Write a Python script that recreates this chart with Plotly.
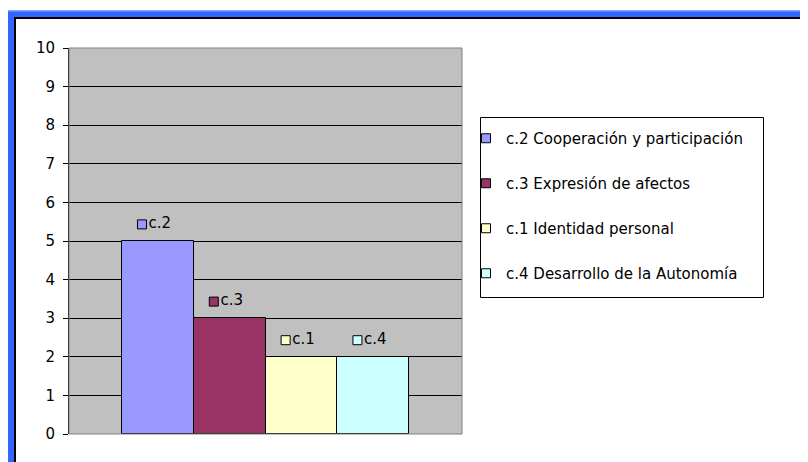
import plotly.graph_objects as go

# ---- data ----
series_names = ["c.2 Cooperación y participación", "c.3 Expresión de afectos",
                "c.1 Identidad personal", "c.4 Desarrollo de la Autonomía"]
short_labels = ["c.2", "c.3", "c.1", "c.4"]
values = [5, 3, 2, 2]
colors = ["#9999FF", "#993366", "#FFFFCC", "#CCFFFF"]
y_ticks = list(range(0, 11))

FONT = "DejaVu Sans, Liberation Sans, Arial"
OFF = 8                      # default page body margin
W, H = 808 - OFF, 462 - OFF  # figure size
L, R, T, B = 69, 462, 48, 434  # plot area in page pixels

def px(x):
    return (x - L) / (R - L)

def py(y):
    return (B - y) / (B - T)

fig = go.Figure()
for i, (name, v, c) in enumerate(zip(series_names, values, colors)):
    fig.add_trace(go.Bar(
        x=[i], y=[v], name=name, width=1,
        marker=dict(color=c, line=dict(color="#000000", width=1)),
        showlegend=False,
    ))
# data labels with legend keys
for i, (v, c, s) in enumerate(zip(values, colors, short_labels)):
    fig.add_trace(go.Scatter(
        x=[i - 0.22], y=[v + 0.43], mode="markers+text", text=[s],
        textposition="middle right",
        marker=dict(symbol="square", size=9, color=c, line=dict(color="#000000", width=1)),
        textfont=dict(family=FONT, size=15, color="#000000"),
        showlegend=False, hoverinfo="skip", cliponaxis=False,
    ))
# legend entries
for i, (name, c) in enumerate(zip(series_names, colors)):
    fig.add_trace(go.Scatter(
        x=[None], y=[None], mode="markers", name=name, legendgroup=f"g{i}",
        marker=dict(symbol="square", size=9, color=c, line=dict(color="#000000", width=1)),
        showlegend=True,
    ))

shapes = []
# plot area outline (grey)
shapes.append(dict(type="rect", xref="paper", yref="paper", x0=0, x1=1, y0=0, y1=1,
                   line=dict(color="#808080", width=1), fillcolor="rgba(0,0,0,0)", layer="above"))
# legend box
shapes.append(dict(type="rect", xref="paper", yref="paper", x0=px(480.5), x1=px(763.5), y0=py(297.5), y1=py(117.5),
                   line=dict(color="#000000", width=1), fillcolor="rgba(0,0,0,0)", layer="above"))
# blue frame (left and top)
frame_blue = "#3366FF"
shapes.append(dict(type="rect", xref="paper", yref="paper", x0=px(8), x1=px(14), y0=py(480), y1=py(10),
                   line=dict(width=0), fillcolor=frame_blue, layer="above"))
shapes.append(dict(type="rect", xref="paper", yref="paper", x0=px(8), x1=px(830), y0=py(17), y1=py(10),
                   line=dict(width=0), fillcolor=frame_blue, layer="above"))
shapes.append(dict(type="rect", xref="paper", yref="paper", x0=px(8), x1=px(830), y0=py(11.5), y1=py(10),
                   line=dict(width=0), fillcolor="#7FA6FF", layer="above"))
# black inner frame line
shapes.append(dict(type="rect", xref="paper", yref="paper", x0=px(14), x1=px(16), y0=py(480), y1=py(17),
                   line=dict(width=0), fillcolor="#000000", layer="above"))
shapes.append(dict(type="rect", xref="paper", yref="paper", x0=px(14), x1=px(830), y0=py(19), y1=py(17),
                   line=dict(width=0), fillcolor="#000000", layer="above"))

fig.update_layout(
    width=W, height=H,
    margin=dict(l=L - OFF, r=(W + OFF) - R, t=T - OFF, b=(H + OFF) - B, pad=0),
    paper_bgcolor="#FFFFFF", plot_bgcolor="#C0C0C0",
    barmode="overlay", bargap=0,
    font=dict(family=FONT, size=15, color="#000000"),
    showlegend=True,
    legend=dict(x=px(466), y=py(122), xanchor="left", yanchor="top",
                bgcolor="rgba(0,0,0,0)", borderwidth=0,
                font=dict(family=FONT, size=15, color="#000000"),
                tracegroupgap=22.5, traceorder="grouped", itemclick=False,
                itemsizing="trace"),
    shapes=shapes,
    xaxis=dict(range=[-1.236, 4.236], showticklabels=False, ticks="", showgrid=False,
               zeroline=False, showline=False, fixedrange=True),
    yaxis=dict(range=[0, 10], tickvals=y_ticks, ticks="outside", ticklen=5, tickcolor="#000000",
               ticklabelstandoff=5,
               showgrid=True, gridcolor="#000000", gridwidth=1, zeroline=False,
               showline=True, linecolor="#000000", linewidth=1,
               tickfont=dict(family=FONT, size=15, color="#000000"),
               fixedrange=True),
)

fig.write_html("out.html")
